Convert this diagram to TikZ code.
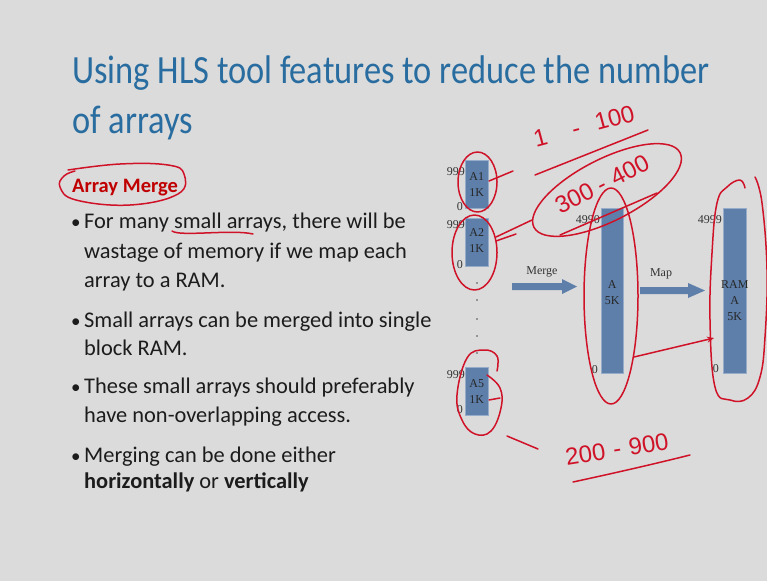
\documentclass[tikz,border=0pt]{standalone}
\usepackage{graphicx}
\usepackage{fontspec}
\setmainfont{Carlito}
\newfontfamily\figfont{Liberation Serif}
\newfontfamily\handfont{Liberation Sans}
\usetikzlibrary{arrows.meta}
\definecolor{slidebg}{RGB}{219,219,219}
\definecolor{titleblue}{RGB}{40,108,160}
\definecolor{memblue}{RGB}{94,127,170}
\definecolor{memedge}{RGB}{150,172,200}
\definecolor{ink}{RGB}{208,18,40}
\definecolor{headred}{RGB}{192,0,0}
\definecolor{bodytext}{RGB}{28,28,28}
\newcommand{\narrowtitle}[1]{\scalebox{0.86}[1]{#1}}
\tikzset{
  titletext/.style={anchor=base west, inner sep=0, text=titleblue,
    font=\fontsize{40}{48}\selectfont},
  bodyline/.style={anchor=base west, inner sep=0, text=bodytext,
    font=\fontsize{22.4}{28}\selectfont},
  bulletmark/.style={anchor=base west, inner sep=0, text=bodytext,
    font=\fontsize{19}{24}\selectfont},
  membox/.style={draw=memedge, line width=0.6pt, fill=memblue,
    inner sep=0, anchor=north west},
  memlabel/.style={inner sep=0, align=center, text=black!85,
    font=\figfont\fontsize{12}{16}\selectfont},
  addr/.style={inner sep=0, anchor=base east, text=black!80,
    font=\figfont\fontsize{12}{14}\selectfont},
  blockarrow/.style={fill=memblue},
  inkline/.style={draw=ink, line width=1.5pt, line cap=round, line join=round},
  inktext/.style={inner sep=0, text=ink, font=\handfont\fontsize{24}{28}\selectfont},
}
\begin{document}
\begin{tikzpicture}[x=1pt,y=-1pt]
\fill[slidebg] (0,0) rectangle (767,581);
\useasboundingbox (0,0) rectangle (767,581);

% title
\node[titletext] (t1) at (72,83) {\narrowtitle{Using HLS tool features to reduce the number}};
\node[titletext] (t2) at (72,133) {\narrowtitle{of arrays}};

% heading and bullets
\node[anchor=base west, inner sep=0, text=headred,
  font=\bfseries\fontsize{20.5}{25}\selectfont] (head) at (72,192) {Array Merge};

\node[bulletmark] (d1) at (71,228) {•};
\node[bodyline] (l1a) at (84,228) {For many small arrays, there will be};
\node[bodyline] (l1b) at (84,258) {wastage of memory if we map each};
\node[bodyline] (l1c) at (84,287) {array to a RAM.};
\node[bulletmark] (d2) at (71,327) {•};
\node[bodyline] (l2a) at (84,327) {Small arrays can be merged into single};
\node[bodyline] (l2b) at (84,355) {block RAM.};
\node[bulletmark] (d3) at (71,393) {•};
\node[bodyline] (l3a) at (84,393) {These small arrays should preferably};
\node[bodyline] (l3b) at (84,422) {have non-overlapping access.};
\node[bulletmark] (d4) at (71,462) {•};
\node[bodyline] (l4a) at (84,462) {Merging can be done either};
\node[bodyline] (l4b) at (84,488) {\textbf{horizontally} or \textbf{vertically}};

% small arrays
\node[membox, minimum width=23, minimum height=48] (a1) at (465,160) {};
\node[memlabel] at (a1.center) {A1\\1K};
\node[addr] at (465,175) {999};
\node[addr] at (463,210) {0};

\node[membox, minimum width=23, minimum height=48] (a2) at (465,218) {};
\node[memlabel] at ([yshift=2]a2.center) {A2\\1K};
\node[addr] at (465,228) {999};
\node[addr] at (463,268) {0};

\foreach \yy in {283,300,319,336,353}
  \fill[black!70] (477,\yy) circle (0.8);

\node[membox, minimum width=23, minimum height=48] (a5) at (465,367) {};
\node[memlabel] at (a5.center) {A5\\1K};
\node[addr] at (465,378) {999};
\node[addr] at (463,413) {0};

% merged array
\node[membox, minimum width=22, minimum height=165] (am) at (601,208) {};
\node[memlabel] at ([yshift=-2]am.center) {A\\5K};
\node[addr] at (600,223) {4990};
\node[addr] at (598,373) {0};

% block RAM
\node[membox, minimum width=23, minimum height=165] (ram) at (723,208) {};
\node[memlabel] at ([yshift=-10]ram.center) {RAM\\A\\5K};
\node[addr] at (722,223) {4999};
\node[addr] at (719,372) {0};

% merge and map arrows
\fill[blockarrow] (512,283) -- (562,283) -- (562,279) -- (577,286.5)
  -- (562,294) -- (562,290) -- (512,290) -- cycle;
\node[inner sep=0, anchor=base, text=black!80,
  font=\figfont\fontsize{12}{14}\selectfont] (mergelbl) at (542,274) {Merge};
\fill[blockarrow] (640,287) -- (688,287) -- (688,283) -- (705,290.5)
  -- (688,298) -- (688,294) -- (640,294) -- cycle;
\node[inner sep=0, anchor=base, text=black!80,
  font=\figfont\fontsize{12}{14}\selectfont] (maplbl) at (661,276) {Map};

% ink annotations
\draw[inkline] plot[smooth, tension=0.7] coordinates {(68,170) (120,164) (168,165)
  (184,174) (178,194) (130,205) (76,200) (60,187) (64,176) (75,171)};
\draw[inkline] (172,231) .. controls (180,237) and (232,229) .. (253,234);

\draw[inkline] (477.5,182) ellipse [x radius=19.5, y radius=30];
\draw[inkline] (489,181) -- (513,171);
\draw[inkline] (474.5,252.5) ellipse [x radius=22.5, y radius=37.5];
\draw[inkline] (496,237) -- (532,220);
\draw[inkline] (496,241) -- (516,234);

\node[inktext, rotate=15] (r1) at (584,126) {1\hspace{26pt}-\hspace{16pt}100};
\draw[inkline] (535,175) -- (648,130);

\node[inktext, rotate=27] (r2) at (602,184) {300\hspace{6pt}-\hspace{8pt}400};
\draw[inkline, rotate around={27:(607,190)}] (607,190) ellipse [x radius=82, y radius=31];
\draw[inkline] (560,235) -- (657,193);

\draw[inkline] (611,296) ellipse [x radius=27, y radius=108];

\draw[inkline] plot[smooth, tension=0.7] coordinates {(745,188) (740,180) (727,187)
  (717,203) (712,253) (710,320) (715,387) (730,400) (748,398) (760,377) (765,337)
  (767,270) (762,203) (755,177)};

\coordinate (mapfrom) at (634,357);
\coordinate (mapto) at (714,338);
\draw[inkline, -{Stealth[length=7pt, width=6pt]}] (mapfrom) -- (mapto);

\draw[inkline] plot[smooth, tension=0.7] coordinates {(497,371) (497,356) (484,350)
  (467,358) (457,395) (462,420) (475,434) (491,431) (501,408) (500,388) (487,375)};
\draw[inkline] (489,400) -- (500,398);

\draw[inkline] (507,436) -- (538,449);
\node[inktext, rotate=9] (r3) at (617,449) {200\hspace{8pt}-\hspace{8pt}900};
\draw[inkline] (573,482) .. controls (610,474) and (650,465) .. (690,455);
\end{tikzpicture}
\end{document}
